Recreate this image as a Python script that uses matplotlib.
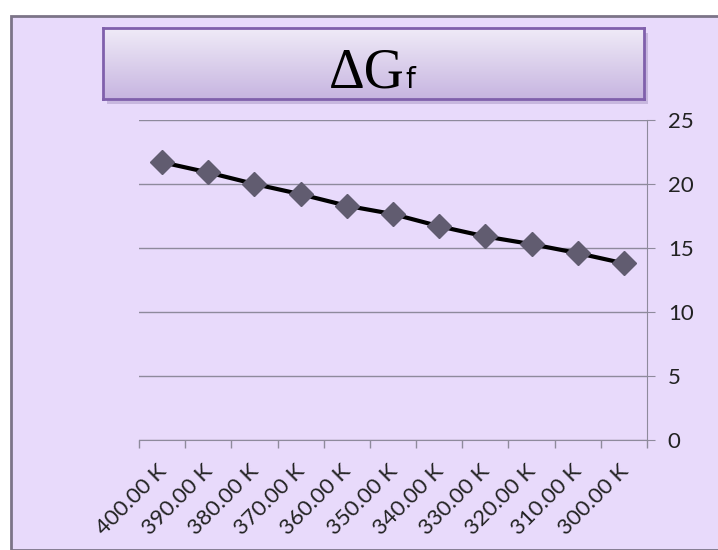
import numpy as np
import matplotlib.pyplot as plt
from matplotlib.patches import Rectangle
from matplotlib.transforms import ScaledTranslation

# temperatures (categories) and Gibbs energy of formation values
temperatures = ["400.00 K", "390.00 K", "380.00 K", "370.00 K", "360.00 K", "350.00 K",
                "340.00 K", "330.00 K", "320.00 K", "310.00 K", "300.00 K"]
delta_g = [21.7, 20.9, 20.0, 19.2, 18.3, 17.65, 16.7, 15.9, 15.3, 14.6, 13.8]
y_ticks = [0, 5, 10, 15, 20, 25]

bg = "#e8dafb"
grid_color = "#8e8a9c"

fig = plt.figure(figsize=(7.18, 5.5), dpi=100)
fig.patch.set_facecolor("white")

# chart area background with border
fig.patches.append(Rectangle((11 / 718, 0), 1, 1 - 16 / 550, transform=fig.transFigure,
                             facecolor=bg, edgecolor="#7c7488", linewidth=2, zorder=-2))

# title box: shadow, gradient, border
x0, x1 = 103 / 718, 644 / 718
y0, y1 = 1 - 99 / 550, 1 - 28 / 550
fig.patches.append(Rectangle((x0 + 4 / 718, y0 - 5 / 550), x1 - x0, y1 - y0, transform=fig.transFigure,
                             facecolor="#c7b7de", edgecolor="none", zorder=-1))
gax = fig.add_axes([x0, y0, x1 - x0, y1 - y0], zorder=1)
grad = np.linspace(0, 1, 100).reshape(-1, 1)
top = np.array([0.94, 0.92, 0.97])
bottom = np.array([0.78, 0.71, 0.88])
img = top + (bottom - top) * grad[:, :, None]
gax.imshow(img, aspect="auto", extent=[0, 1, 0, 1])
gax.set_xticks([])
gax.set_yticks([])
for s in gax.spines.values():
    s.set_color("#8060ac")
    s.set_linewidth(2)

fig.text(0.563, 1 - 88 / 550, "\u0394G", fontsize=40, family="Liberation Serif",
         ha="right", va="baseline", zorder=5)
fig.text(0.564, 1 - 88 / 550, "f", fontsize=20, family="DejaVu Sans",
         ha="left", va="baseline", zorder=5)

ax = fig.add_axes([139 / 718, 0.2, (647 - 139) / 718, (440 - 120) / 550], zorder=1)
ax.patch.set_alpha(0)

x = np.arange(len(temperatures))
ax.plot(x, delta_g, color="black", linewidth=3, marker="D", markersize=12,
        markerfacecolor="#615c70", markeredgecolor="#615c70", zorder=3)

ax.set_xlim(-0.5, len(temperatures) - 0.5)
ax.set_ylim(0, 25)
ax.set_yticks(y_ticks)
ax.yaxis.tick_right()
ax.tick_params(axis="y", direction="out", length=6, color=grid_color, pad=9,
               labelsize=16, labelcolor="#222222")
for lab in ax.get_yticklabels():
    lab.set_family("Lato")

ax.set_xticks(x)
ax.set_xticklabels(temperatures, rotation=45, ha="right", rotation_mode="anchor",
                   fontsize=16, family="Lato", color="#222222")
ax.tick_params(axis="x", which="major", length=0, pad=15)
# nudge the rotated labels a little to the left, like the original
shift = ScaledTranslation(-6 / 100, 0, fig.dpi_scale_trans)
for lab in ax.get_xticklabels():
    lab.set_transform(lab.get_transform() + shift)
ax.set_xticks(np.arange(len(temperatures) + 1) - 0.5, minor=True)
ax.tick_params(axis="x", which="minor", length=6, color=grid_color, width=1)

ax.grid(axis="y", color=grid_color, linewidth=1)
ax.set_axisbelow(True)
for side in ["left", "top"]:
    ax.spines[side].set_visible(False)
for side in ["right", "bottom"]:
    ax.spines[side].set_color(grid_color)

fig.savefig("out.png", dpi=100, facecolor=fig.get_facecolor())
